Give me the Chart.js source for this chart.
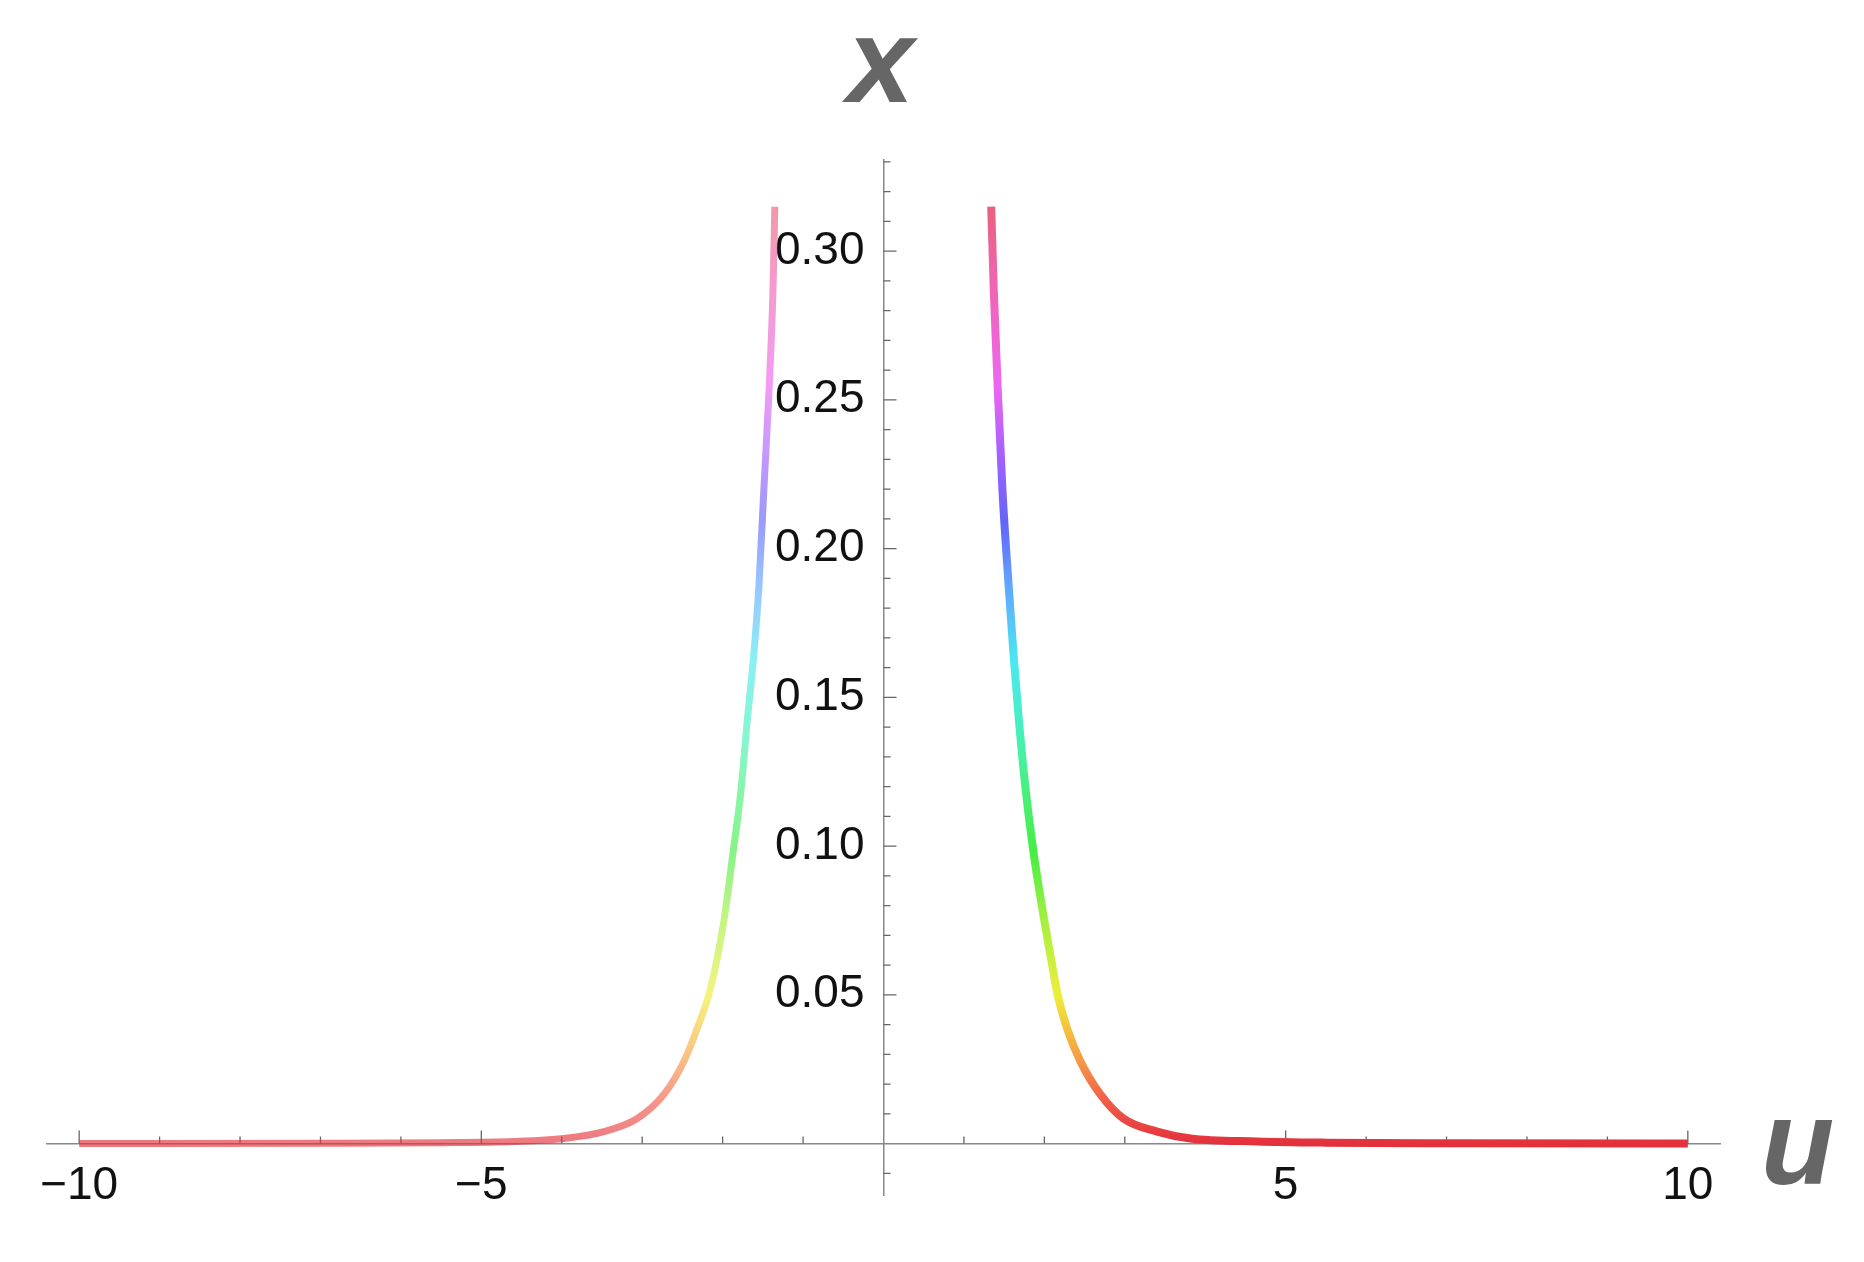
<!DOCTYPE html>
<html>
<head>
<meta charset="utf-8">
<script src="https://cdn.jsdelivr.net/npm/chart.js@4.4.1/dist/chart.umd.min.js"></script>
<style>
  html, body { margin: 0; padding: 0; background: #fff; }
  #wrap { width: 1864px; height: 1262px; position: relative; }
</style>
</head>
<body>
<div id="wrap"><canvas id="plot"></canvas></div>
<script>
// values (u, x)
const leftU = [-10, -7, -5.5, -4.595, -3.974, -3.477, -3.062, -2.731, -2.482, -2.316, -2.150, -1.985, -1.873, -1.769, -1.694, -1.612, -1.550, -1.488, -1.423, -1.374, -1.351];
const leftX = [0, 0.0001, 0.0003, 0.0007, 0.0017, 0.0040, 0.0084, 0.0165, 0.0276, 0.0387, 0.0522, 0.0747, 0.0973, 0.1195, 0.1421, 0.1646, 0.1869, 0.2195, 0.2532, 0.2869, 0.3149];
const rightU = [1.339, 1.371, 1.421, 1.479, 1.560, 1.616, 1.684, 1.765, 1.868, 2.001, 2.088, 2.163, 2.283, 2.449, 2.697, 2.983, 3.402, 3.816, 4.645, 5.5, 7, 10];
const rightX = [0.3149, 0.2869, 0.2532, 0.2195, 0.1859, 0.1646, 0.1421, 0.1195, 0.0973, 0.0747, 0.0613, 0.0502, 0.0387, 0.0276, 0.0165, 0.0084, 0.0040, 0.0017, 0.0007, 0.0003, 0.0001, 0];

const xTickLabels = [-10, -5, 5, 10];
const yTickLabels = [0.05, 0.10, 0.15, 0.20, 0.25, 0.30];

const xMinor = [];
for (let i = -10; i <= 10; i++) if (i !== 0) xMinor.push(i);
const yMinor = [];
for (let i = -1; i <= 33; i++) if (i !== 0) yMinor.push(i / 100);

// colour along the curve, keyed on height
const hueStops = [
  [0.000, '#e3303d'], [0.015, '#f2604a'], [0.028, '#f59a45'], [0.040, '#f3c83c'],
  [0.050, '#eeee3a'], [0.075, '#a4f040'], [0.098, '#45ee45'], [0.120, '#48f080'],
  [0.140, '#45f0c0'], [0.162, '#4ae8f0'], [0.187, '#60a8ff'], [0.209, '#6464f8'],
  [0.230, '#a060ff'], [0.255, '#ee66f0'], [0.287, '#f065b5'], [0.320, '#e96072']
];

function withAlpha(hex, a) {
  const n = parseInt(hex.slice(1), 16);
  return `rgba(${n >> 16}, ${(n >> 8) & 255}, ${n & 255}, ${a})`;
}

function curveGradient(chart, alpha) {
  const ys = chart.scales.y;
  const top = 0.32;
  const g = chart.ctx.createLinearGradient(0, ys.getPixelForValue(0), 0, ys.getPixelForValue(top));
  hueStops.forEach(([v, c]) => g.addColorStop(v / top, withAlpha(c, alpha)));
  return g;
}

const toPoints = (us, xs) => us.map((u, i) => ({x: u, y: xs[i]}));

const tickMarks = {
  id: 'tickMarks',
  beforeDatasetsDraw(chart) {
    const {ctx, scales: {x, y}} = chart;
    const x0 = x.getPixelForValue(0), y0 = y.getPixelForValue(0);
    ctx.save();
    ctx.strokeStyle = '#666';
    ctx.lineWidth = 1.3;
    ctx.beginPath();
    xMinor.forEach(v => {
      const p = x.getPixelForValue(v);
      const len = v % 5 === 0 ? 13 : 7;
      ctx.moveTo(p, y0);
      ctx.lineTo(p, y0 - len);
    });
    yMinor.forEach(v => {
      const p = y.getPixelForValue(v);
      const major = Math.abs(v / 0.05 - Math.round(v / 0.05)) < 1e-6;
      ctx.moveTo(x0, p);
      ctx.lineTo(x0 + (major ? 13 : 7), p);
    });
    ctx.stroke();
    ctx.restore();
  },
  afterDraw(chart) {
    const {ctx, chartArea, scales: {x, y}} = chart;
    ctx.save();
    ctx.fillStyle = '#666';
    ctx.font = 'italic bold 120px "Liberation Sans", Arial, sans-serif';
    ctx.textBaseline = 'alphabetic';
    ctx.textAlign = 'center';
    ctx.fillText('x', x.getPixelForValue(0) - 3, chartArea.top - 58);
    ctx.textAlign = 'left';
    ctx.fillText('u', chartArea.right + 41, y.getPixelForValue(0) + 40);
    ctx.restore();
  }
};

new Chart(document.getElementById('plot'), {
  type: 'scatter',
  data: {
    datasets: [
      {
        label: 'u < 0',
        data: toPoints(leftU, leftX),
        showLine: true,
        borderWidth: 7,
        borderColor: c => c.chart.chartArea ? curveGradient(c.chart, 0.65) : '#f4a0a0',
        cubicInterpolationMode: 'monotone',
        pointRadius: 0
      },
      {
        label: 'u > 0',
        data: toPoints(rightU, rightX),
        showLine: true,
        borderWidth: 8,
        borderColor: c => c.chart.chartArea ? curveGradient(c.chart, 1) : '#e3303d',
        cubicInterpolationMode: 'monotone',
        pointRadius: 0
      }
    ]
  },
  options: {
    responsive: true,
    maintainAspectRatio: false,
    animation: false,
    layout: {
      padding: { left: 47, right: 144, top: 160, bottom: 67 }
    },
    plugins: {
      legend: { display: false },
      tooltip: { enabled: false }
    },
    scales: {
      x: {
        type: 'linear',
        min: -10.4,
        max: 10.4,
        position: { y: 0 },
        afterFit: s => { s.height = 0; },
        afterBuildTicks: s => { s.ticks = xTickLabels.map(v => ({value: v})); },
        grid: { drawOnChartArea: false, drawTicks: false },
        border: { color: '#888', width: 1.5 },
        ticks: {
          padding: 15,
          maxRotation: 0,
          color: '#111',
          font: { family: '"Liberation Sans", Arial, sans-serif', size: 46 },
          callback: v => v < 0 ? '\u2212' + Math.abs(v) : String(v)
        }
      },
      y: {
        type: 'linear',
        min: -0.0173,
        max: 0.3306,
        position: 'center',
        afterFit: s => { s.width = 0; },
        afterBuildTicks: s => { s.ticks = yTickLabels.map(v => ({value: v})); },
        grid: { drawOnChartArea: false, drawTicks: false },
        border: { color: '#888', width: 1.5 },
        ticks: {
          padding: 19,
          color: '#111',
          font: { family: '"Liberation Sans", Arial, sans-serif', size: 46 },
          callback: v => v.toFixed(2)
        }
      }
    }
  },
  plugins: [tickMarks]
});
</script>
</body>
</html>
